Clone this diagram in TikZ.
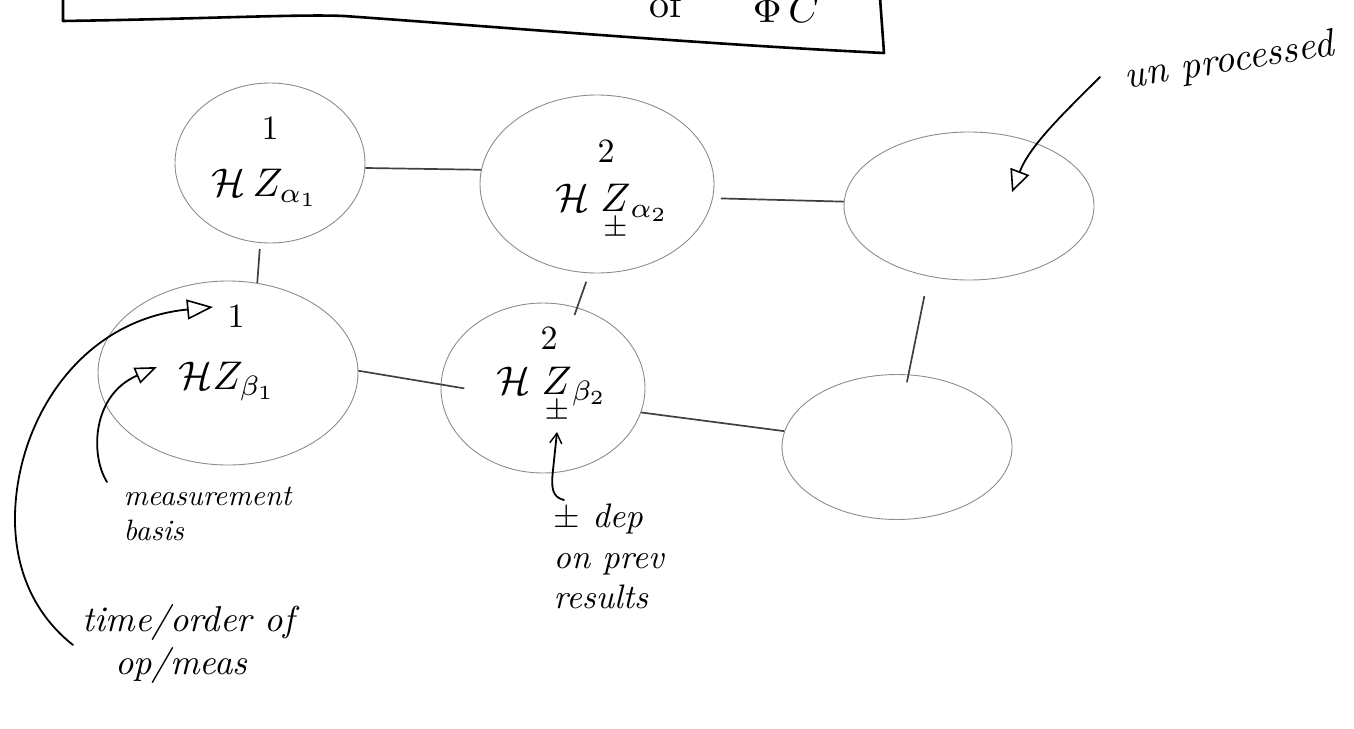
\documentclass[tikz,border=0pt]{standalone}
\usepackage{amsmath}
\usetikzlibrary{shapes.geometric,arrows.meta}
\begin{document}
\begin{tikzpicture}[x=1pt,y=-1pt,
  cell/.style={ellipse, draw=black!45, line width=0.9pt, inner sep=0pt},
  link/.style={draw=black!75, line width=1.7pt},
  pen/.style={draw=black, line width=1.8pt, line cap=round},
  framepen/.style={draw=black, line width=2.6pt, line join=round},
  idx/.style={scale=3.4, inner sep=0pt},
  frm/.style={scale=4, inner sep=0pt, anchor=base},
  hand/.style={font=\itshape, align=left, inner sep=0pt},
  opentri/.style={-{Triangle[open,length=26pt,width=20pt,line width=1.6pt]}},
  caret/.style={-{Straight Barb[length=10pt,width=12pt,line width=1.4pt]}}
]
\useasboundingbox (0,0) rectangle (1354,728);

% title frame (cut off at the top)
\draw[framepen] (63,-30) -- (63,21) .. controls (200,19) and (300,14) .. (344,16)
  .. controls (500,27) and (700,44) .. (884,53) -- (878,-30);
\node[anchor=base west, scale=4, inner sep=0pt] (of) at (649,17) {of};
\node[anchor=base west, scale=4, inner sep=0pt] (phic) at (752,22) {$\Phi\,C$};

% cells
\node[cell, minimum width=190pt, minimum height=160pt] (A1) at (270,163) {};
\node[cell, minimum width=234pt, minimum height=178pt] (A2) at (597,184) {};
\node[cell, minimum width=250pt, minimum height=148pt] (A3) at (969,206) {};
\node[cell, minimum width=260pt, minimum height=184pt] (B1) at (228,373) {};
\node[cell, minimum width=204pt, minimum height=170pt] (B2) at (543,388) {};
\node[cell, minimum width=230pt, minimum height=145pt] (B3) at (897,447) {};

% cell contents
\node[idx] (A1i) at (270,128) {1};
\node[frm] (A1f) at (265,196) {$\mathcal{H}\,Z_{\alpha_1}$};
\node[idx] (A2i) at (606,151) {2};
\node[frm] (A2f) at (612,211) {$\mathcal{H}\;\underset{\pm}{Z}{}_{\alpha_2}$};
\node[idx] (B1i) at (236,316) {1};
\node[frm] (B1f) at (227,389) {$\mathcal{H}Z_{\beta_1}$};
\node[idx] (B2i) at (549,338) {2};
\node[frm] (B2f) at (552,394) {$\mathcal{H}\;\underset{\pm}{Z}{}_{\beta_2}$};

% links
\draw[link] (A1.-3) -- (A2.173);
\draw[link, shorten <=8pt] (A2.-7) -- (A3.178);
\draw[link, shorten <=6pt] (A1.-97) -- (B1.72);
\draw[link, shorten <=9pt, shorten >=-8pt] (A2.-95) -- (B2.67);
\draw[link, shorten <=20pt, shorten >=-8pt] (A3.-120) -- (B3.81);
\draw[link, shorten >=-24pt] (B1.1) -- (B2.178);
\draw[link] (B2.-14) -- (B3.172);

% labels
\node[hand, anchor=north west, scale=2.95] (meas) at (123,486) {\fontsize{10}{12.5}\selectfont measurement\\basis};
\node[hand, anchor=north west, scale=3.6] (time) at (82,604) {\fontsize{10}{13.3}\selectfont time/order of\\\hspace*{9pt}op/meas};
\node[hand, anchor=north west, scale=3.4] (dep) at (553,503) {\fontsize{10}{12.9}\selectfont $\pm$ dep\\on prev\\results};
\node[hand, rotate=9, scale=3.9] (unp) at (1229,62) {un processed};

% arrows
\coordinate (tstart) at (73,645);
\coordinate (ttip) at (213,307);
\draw[pen, opentri] (tstart) .. controls (35,615) and (14,570) .. (15,515)
  .. controls (17,420) and (80,320) .. (ttip);

\coordinate (mstart) at (107,482);
\coordinate (mtip) at (157,367);
\draw[pen, -{Triangle[open,length=22pt,width=17pt,line width=1.6pt]}] (mstart) .. controls (90,455) and (92,395) .. (mtip);

\coordinate (ustart) at (1100,77);
\coordinate (utip) at (1012,192);
\draw[pen, -{Triangle[open,length=22pt,width=20pt,line width=1.6pt]}] (ustart) .. controls (1065,112) and (1030,145) .. (utip);

\coordinate (dstart) at (564,500);
\coordinate (dtip) at (557,432);
\draw[pen, caret] (dstart) .. controls (552,497) and (551,488) .. (553,470) -- (dtip);
\end{tikzpicture}
\end{document}
